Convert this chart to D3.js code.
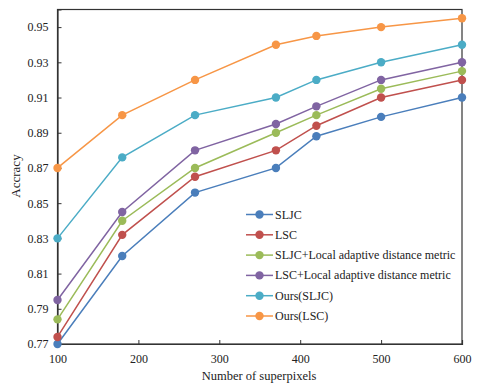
<!DOCTYPE html>
<html><head><meta charset="utf-8">
<script src="https://cdn.jsdelivr.net/npm/d3@7"></script>
<style>body{margin:0;background:#fff}svg{display:block}text{font-family:"Liberation Serif","Times New Roman",serif;fill:#222}</style>
</head><body>
<svg id="c" width="480" height="391"></svg>
<script>
const xValues = [100, 180, 270, 370, 420, 500, 600];
const seriesNames = ["SLJC", "LSC", "SLJC+Local adaptive distance metric", "LSC+Local adaptive distance metric", "Ours(SLJC)", "Ours(LSC)"];
const sljc = [0.770, 0.820, 0.856, 0.870, 0.888, 0.899, 0.910];
const lsc = [0.774, 0.832, 0.865, 0.880, 0.894, 0.910, 0.920];
const sljcLocal = [0.784, 0.840, 0.870, 0.890, 0.900, 0.915, 0.925];
const lscLocal = [0.795, 0.845, 0.880, 0.895, 0.905, 0.920, 0.930];
const oursSljc = [0.830, 0.876, 0.900, 0.910, 0.920, 0.930, 0.940];
const oursLsc = [0.870, 0.900, 0.920, 0.940, 0.945, 0.950, 0.955];
const colors = ["#4a7ebb", "#c0504d", "#9bbb59", "#8064a2", "#4bacc6", "#f79646"];
const xTicks = [100, 200, 300, 400, 500, 600];
const yTicks = [0.77, 0.79, 0.81, 0.83, 0.85, 0.87, 0.89, 0.91, 0.93, 0.95];
const seriesValues = [sljc, lsc, sljcLocal, lscLocal, oursSljc, oursLsc];

const svg = d3.select("#c");
const L = 57.5, R = 462, T = 9.5, B = 344;
const x = d3.scaleLinear().domain([100, 600]).range([L, R]);
const y = d3.scaleLinear().domain([0.77, 0.96]).range([B, T]);

svg.append("rect").attr("x", L).attr("y", T).attr("width", R - L).attr("height", B - T)
  .attr("fill", "none").attr("stroke", "#333").attr("stroke-width", 1.2);

const xAxis = svg.append("g").attr("transform", `translate(0,${B})`)
  .call(d3.axisBottom(x).tickValues(xTicks).tickSize(-4).tickPadding(10).tickFormat(d3.format("d")));
const yAxis = svg.append("g").attr("transform", `translate(${L},0)`)
  .call(d3.axisLeft(y).tickValues(yTicks).tickSize(-4).tickPadding(9).tickFormat(d3.format(".2f")));
[xAxis, yAxis].forEach(g => {
  g.select(".domain").attr("stroke", "#333").attr("stroke-width", 1.2);
  g.selectAll(".tick line").attr("stroke", "#333");
  g.selectAll(".tick text").attr("font-size", 12).attr("fill", "#222")
    .style("font-family", '"Liberation Serif", serif');
});

const line = d3.line().x((d, i) => x(xValues[i])).y(d => y(d));
seriesValues.forEach((vals, k) => {
  svg.append("path").attr("d", line(vals)).attr("fill", "none")
    .attr("stroke", colors[k]).attr("stroke-width", 1.5);
  svg.selectAll(null).data(vals).enter().append("circle")
    .attr("cx", (d, i) => x(xValues[i])).attr("cy", d => y(d)).attr("r", 4.2)
    .attr("fill", colors[k]);
});

const lg = svg.append("g");
seriesNames.forEach((name, k) => {
  const yy = 214.5 + k * 20.3;
  lg.append("line").attr("x1", 246).attr("x2", 273).attr("y1", yy).attr("y2", yy)
    .attr("stroke", colors[k]).attr("stroke-width", 1.5);
  lg.append("circle").attr("cx", 259.5).attr("cy", yy).attr("r", 4.2).attr("fill", colors[k]);
  lg.append("text").attr("x", 275).attr("y", yy + 4).attr("font-size", 12).text(name);
});

svg.append("text").attr("x", 259).attr("y", 380).attr("text-anchor", "middle")
  .attr("font-size", 12.5).text("Number of superpixels");
svg.append("text").attr("transform", `translate(20,176) rotate(-90)`)
  .attr("text-anchor", "middle").attr("font-size", 13).text("Accracy");
</script>
</body></html>
